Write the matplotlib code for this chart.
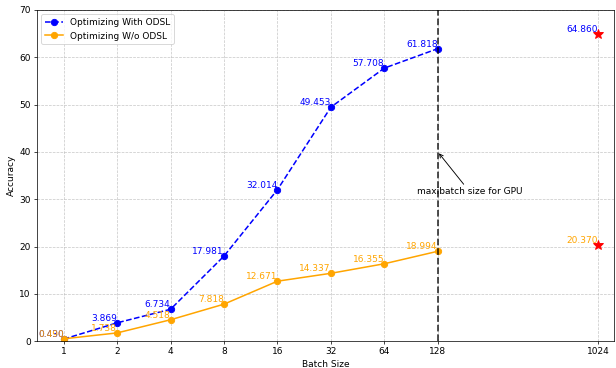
import numpy as np
from matplotlib import pyplot as plt

batch_labels = ['1', '2', '4', '8', '16', '32', '64', '128', '1024']
batch_pos = [0, 1, 2, 3, 4, 5, 6, 7, 10]

with_odsl = [0.430, 3.869, 6.734, 17.981, 32.014, 49.453, 57.708, 61.818]
without_odsl = [0.490, 1.738, 4.518, 7.818, 12.671, 14.337, 16.355, 18.994]
star_with = 64.860
star_without = 20.370

fig = plt.figure(figsize=(616 / 65, 368 / 65), dpi=65)
ax = fig.add_subplot(111)

x = batch_pos[:8]
ax.plot(x, with_odsl, 'b--o', label='Optimizing With ODSL', lw=1.7, markersize=7)
ax.plot(x, without_odsl, '-o', color='orange', label='Optimizing W/o ODSL', lw=1.7, markersize=7)

for xi, yi in zip(x, with_odsl):
    ax.text(xi, yi, '%.3f' % yi, color='blue', ha='right', va='bottom')
for xi, yi in zip(x, without_odsl):
    ax.text(xi, yi, '%.3f' % yi, color='orange', ha='right', va='bottom')

# results at batch size 1024 (beyond GPU memory)
ax.plot(batch_pos[8], star_with, 'r*', markersize=12)
ax.plot(batch_pos[8], star_without, 'r*', markersize=12)
ax.text(batch_pos[8], star_with, '%.3f' % star_with, color='blue', ha='right', va='bottom')
ax.text(batch_pos[8], star_without, '%.3f' % star_without, color='orange', ha='right', va='bottom')

ax.axvline(7, color='k', linestyle='--', linewidth=2, alpha=0.75)
ax.annotate('maxibatch size for GPU', xy=(7, 40), xytext=(7.6, 31),
            ha='center', arrowprops=dict(arrowstyle='->', color='k'))

ax.set_xticks(batch_pos)
ax.set_xticklabels(batch_labels)
ax.set_xlim(-0.5, 10.3)
ax.set_ylim(0, 70)
ax.set_xlabel('Batch Size')
ax.set_ylabel('Accuracy')
ax.grid(True, linestyle='--', alpha=0.7)
ax.legend(loc='upper left')

plt.subplots_adjust(left=0.06, right=0.997, top=0.973, bottom=0.073)
plt.savefig('out.png')
